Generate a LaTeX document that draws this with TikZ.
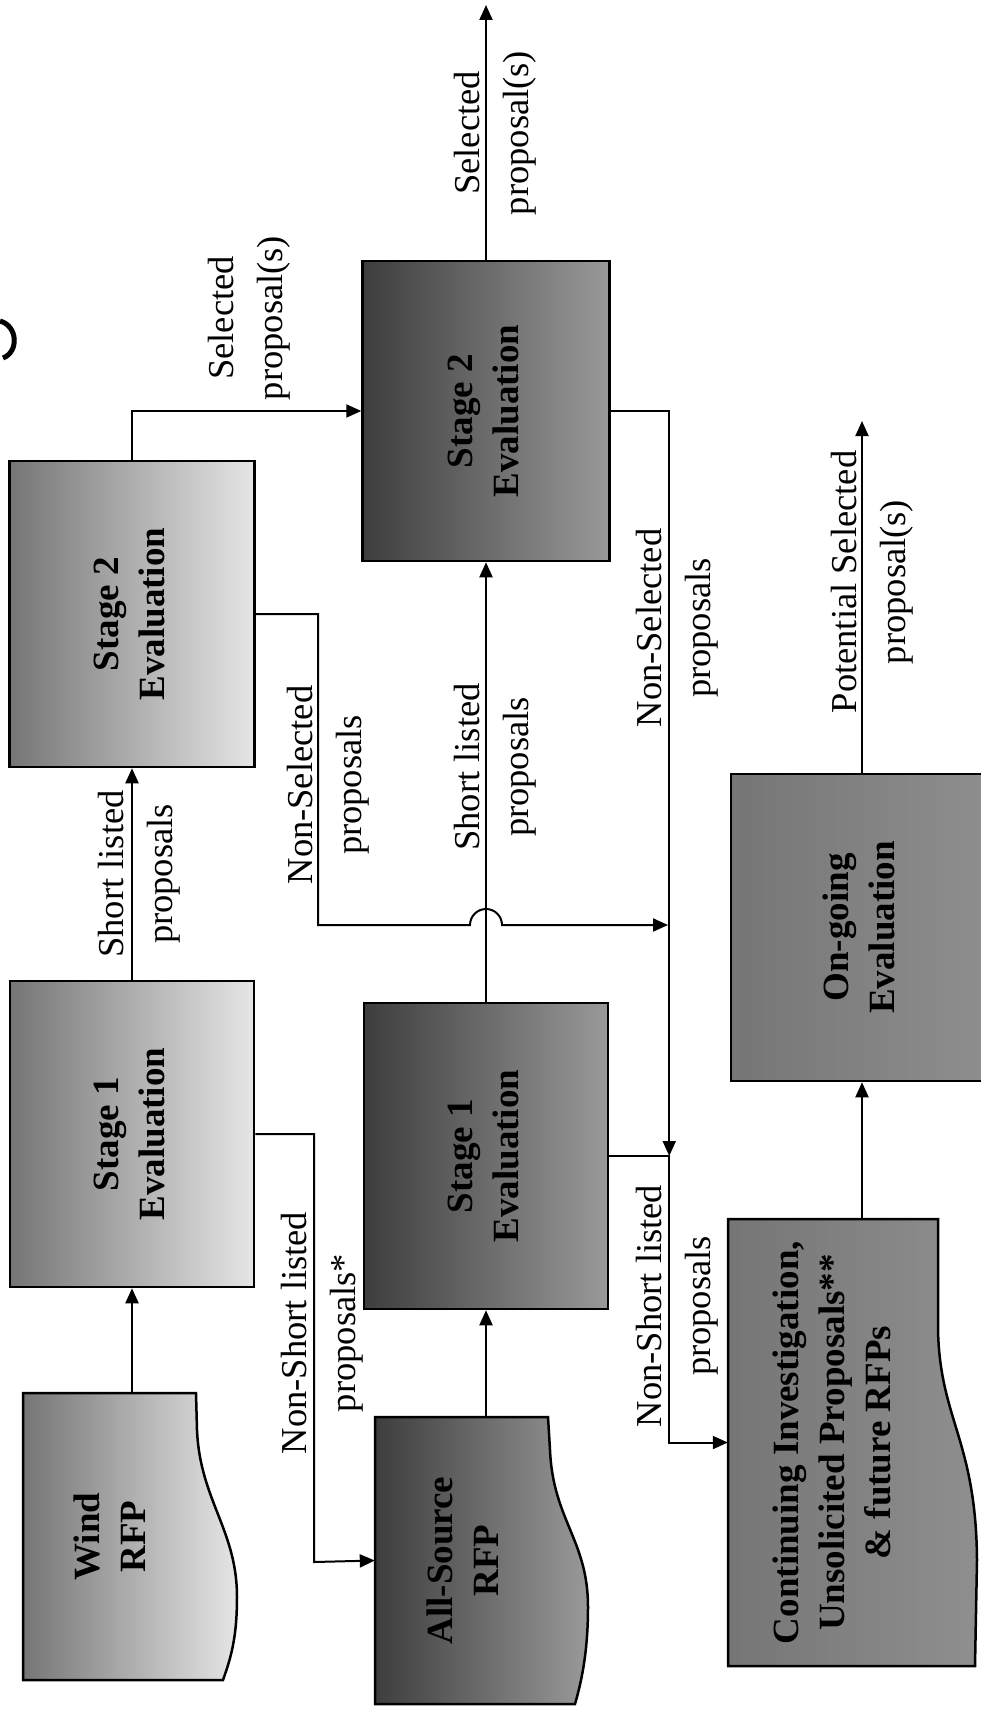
\documentclass[tikz,border=0pt]{standalone}
\usepackage{fontspec}
\setmainfont{Liberation Serif}
\usetikzlibrary{arrows.meta}
\newcommand{\vtext}[1]{\rotatebox{90}{\begin{tabular}{@{}c@{}}#1\end{tabular}}}
\newcommand{\boxfont}{\fontsize{37}{46}\selectfont\bfseries}
\newcommand{\lblfont}{\fontsize{36.5}{49}\selectfont}
\colorlet{dkA}{black!54}
\colorlet{ltA}{black!10}
\colorlet{dkB}{black!76}
\colorlet{ltB}{black!40}
\colorlet{dkC}{black!54}
\colorlet{ltC}{black!44}

\begin{document}
\begin{tikzpicture}[
    x=1pt, y=-1pt,
    >={Triangle[length=15pt,width=13pt]},
    evalbox/.style={
        draw,
        line width=2.5pt,
        inner sep=0pt,
        font=\boxfont
    },
    docnode/.style={inner sep=0pt, font=\boxfont},
    colA/.style={left color=dkA, right color=ltA},
    colB/.style={left color=dkB, right color=ltB},
    colC/.style={left color=dkC, right color=ltC},
    docline/.style={draw, line width=2.5pt},
    conn/.style={line width=2pt},
    lbl/.style={inner sep=0pt, font=\lblfont}
]
\clip (0,0) rectangle (981,1712);

% evaluation boxes
\node[evalbox, colA, minimum width=245pt, minimum height=306pt] (s2a) at (132,614) {\vtext{Stage 2\\Evaluation}};
\node[evalbox, colA, minimum width=244pt, minimum height=306pt] (s1a) at (132,1134) {\vtext{Stage 1\\Evaluation}};
\node[evalbox, colB, minimum width=247pt, minimum height=300pt] (s2b) at (486,411) {\vtext{Stage 2\\Evaluation}};
\node[evalbox, colB, minimum width=244pt, minimum height=306pt] (s1b) at (486,1156) {\vtext{Stage 1\\Evaluation}};
\node[evalbox, colC, minimum width=262pt, minimum height=307pt] (ong) at (862,927.5) {\vtext{On-going\\Evaluation}};

% document shapes
\shadedraw[colA, docline] (23,1393) -- (196,1393) -- (197,1430)
    .. controls (200,1500) and (237,1530) .. (237,1597)
    .. controls (237,1640) and (230,1660) .. (223,1680) -- (23,1680) -- cycle;
\node[docnode, minimum width=218pt, minimum height=287pt] (wind) at (132,1536.5) {\vtext{Wind\\RFP}\hspace*{38pt}};

\shadedraw[colB, docline] (375,1417) -- (548,1417) -- (550,1450)
    .. controls (553,1520) and (588,1540) .. (588,1607)
    .. controls (588,1650) and (582,1680) .. (575,1704) -- (375,1704) -- cycle;
\node[docnode, minimum width=222pt, minimum height=287pt] (allsrc) at (486,1560.5) {\vtext{All-Source\\RFP}\hspace*{40pt}};

\shadedraw[colC, docline] (728,1219) -- (938,1219) -- (938,1330)
    .. controls (940,1420) and (976,1440) .. (977,1560) -- (975,1666) -- (728,1666) -- cycle;
\node[docnode, minimum width=250pt, minimum height=447pt] (cont) at (853,1442.5) {\vtext{Continuing Investigation,\\Unsolicited Proposals**\\\& future RFPs}\hspace*{36pt}};

% helper points
\coordinate (selout) at (486,5);
\coordinate (potout) at (862,421);
\coordinate (nsA) at (318,925);
\coordinate (hopL) at (470,925);
\coordinate (join1) at (668,925);
\coordinate (ns1) at (314,1562);
\path (s1b.east) ++(60,0) coordinate (nsjoin);

% connectors
\draw[conn,->] (wind.north) -- (s1a.south);
\draw[conn,->] (s1a.north) -- (s2a.south);
\draw[conn,->] (s2a.north) |- (s2b.west);
\draw[conn,->] (s2b.north) -- (selout);
\draw[conn,->] (s2a.east) -| (nsA) -- (hopL) arc[start angle=180, end angle=0, radius=16pt] -- (join1);
\draw[conn,->] (s1b.north) -- (s2b.south);
\draw[conn,->] (s2b.east) -| (nsjoin);
\draw[conn,->] (s1a.east) -| (ns1) -- (allsrc.west);
\draw[conn,->] (allsrc.north) -- (s1b.south);
\draw[conn,->] (s1b.east) -- (nsjoin) |- (cont.west);
\draw[conn,->] (cont.north -| ong.south) -- (ong.south);
\draw[conn,->] (ong.north) -- (potout);

% labels
\node[lbl] (l1) at (138,874) {\vtext{Short listed\\proposals}};
\node[lbl] (l2) at (248,318) {\vtext{Selected\\proposal(s)}};
\node[lbl] (l3) at (494,133) {\vtext{Selected\\proposal(s)}};
\node[lbl] (l4) at (327,785) {\vtext{Non-Selected\\proposals}};
\node[lbl] (l5) at (494,767) {\vtext{Short listed\\proposals}};
\node[lbl] (l6) at (676,628) {\vtext{Non-Selected\\proposals}};
\node[lbl] (l7) at (321,1333) {\vtext{Non-Short listed\\proposals*}};
\node[lbl] (l8) at (676,1306) {\vtext{Non-Short listed\\proposals}};
\node[lbl] (l9) at (871,582) {\vtext{Potential Selected\\proposal(s)}};

% cut-off title glyph
\draw[line width=5pt] (0,321) .. controls (18,326) and (19,352) .. (3,358);
\end{tikzpicture}
\end{document}
